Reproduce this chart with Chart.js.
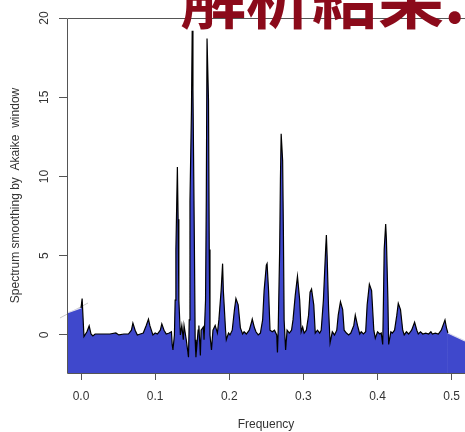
<!DOCTYPE html>
<html>
<head>
<meta charset="utf-8">
<script src="https://cdn.jsdelivr.net/npm/chart.js@4"></script>
<style>
  html, body { margin: 0; padding: 0; background: #fff; overflow: hidden; }
  #wrap { position: relative; width: 465px; height: 432px; overflow: hidden; }
  #title {
    position: absolute; left: 180px; top: -39px; white-space: nowrap;
    font-family: "Noto Sans CJK JP", sans-serif; font-weight: bold;
    font-size: 66px; line-height: 66px; color: #8b0a1a;
  }
</style>
</head>
<body>
<div id="wrap">
  <canvas id="specCanvas" width="465" height="432"></canvas>
  <div id="title">解析結果.</div>
</div>
<script>
// frequency / smoothed spectrum
const freq = [
  -0.019, 0.0, 0.0015, 0.004, 0.008, 0.011, 0.0135, 0.016, 0.019, 0.026, 0.039, 0.047, 0.051, 0.058,
  0.064, 0.068, 0.070, 0.073, 0.076, 0.080, 0.084, 0.088, 0.091, 0.093, 0.097, 0.100, 0.103, 0.107,
  0.109, 0.112, 0.115, 0.119, 0.122, 0.123, 0.124, 0.126, 0.127, 0.128, 0.130, 0.131, 0.132, 0.134,
  0.136, 0.138, 0.139, 0.142, 0.145, 0.146, 0.147, 0.149, 0.150, 0.151, 0.153, 0.154, 0.155, 0.158,
  0.159, 0.161, 0.162, 0.165, 0.166, 0.168, 0.169, 0.170, 0.172, 0.173, 0.174, 0.176, 0.178, 0.181,
  0.184, 0.186, 0.189, 0.191, 0.192, 0.195, 0.196, 0.199, 0.201, 0.204, 0.207, 0.209, 0.212, 0.215,
  0.218, 0.220, 0.223, 0.227, 0.230, 0.231, 0.234, 0.236, 0.239, 0.242, 0.245, 0.247, 0.250, 0.251,
  0.253, 0.255, 0.258, 0.261, 0.264, 0.265, 0.266, 0.268, 0.269, 0.270, 0.272, 0.273, 0.274, 0.276,
  0.278, 0.281, 0.284, 0.286, 0.289, 0.292, 0.295, 0.297, 0.299, 0.301, 0.304, 0.307, 0.309, 0.311,
  0.314, 0.316, 0.319, 0.322, 0.324, 0.327, 0.330, 0.331, 0.332, 0.334, 0.336, 0.339, 0.342, 0.345,
  0.347, 0.350, 0.353, 0.355, 0.358, 0.361, 0.364, 0.368, 0.370, 0.373, 0.376, 0.378, 0.381, 0.384,
  0.386, 0.389, 0.392, 0.395, 0.397, 0.400, 0.403, 0.405, 0.407, 0.408, 0.409, 0.411, 0.412, 0.414,
  0.415, 0.418, 0.420, 0.423, 0.426, 0.428, 0.431, 0.434, 0.436, 0.439, 0.442, 0.446, 0.450, 0.453,
  0.455, 0.458, 0.461, 0.465, 0.469, 0.472, 0.474, 0.478, 0.482, 0.486, 0.491, 0.493, 0.495, 0.518
]
const spectrum = [
  1.39, 1.70, 2.30, -0.10, 0.20, 0.57, 0.06, -0.06, 0.06, 0.06, 0.06, 0.13, 0.00, 0.06,
  0.06, 0.30, 0.75, 0.30, 0.00, 0.06, 0.12, 0.60, 1.00, 0.57, 0.00, 0.12, 0.06, 0.30,
  0.70, 0.30, 0.06, 0.12, 0.20, -0.60, -0.95, 0.00, 2.20, 5.40, 10.60, 7.30, 2.20, 0.00,
  0.60, -0.30, 0.60, -0.30, -1.40, 0.95, 8.50, 14.20, 19.20, 15.50, 5.40, -0.30, -1.40, 0.30,
  0.60, -1.30, 0.30, 0.50, -0.30, 2.20, 8.50, 18.70, 14.80, 5.40, 0.00, -0.95, 0.30, 0.60,
  0.12, 0.95, 2.80, 4.50, 2.80, 0.30, -0.30, 0.12, 0.00, 0.30, 1.60, 2.30, 1.90, 0.45,
  0.06, 0.20, 0.06, 0.30, 0.80, 1.00, 0.45, 0.20, 0.00, 0.12, 0.95, 2.80, 4.40, 4.50,
  2.80, 0.30, 0.20, 0.30, 0.00, -1.10, 0.30, 5.40, 9.80, 12.70, 11.00, 6.60, 0.95, -0.95,
  0.30, 0.12, 0.30, 0.95, 2.50, 3.70, 2.20, 0.20, 0.50, 0.12, 0.30, 1.25, 2.70, 2.90,
  1.90, 0.12, 0.30, 0.12, 0.30, 2.20, 5.40, 6.30, 5.00, 1.60, -0.50, 0.20, 0.00, 0.30,
  1.25, 2.10, 1.60, 0.30, 0.12, 0.00, 0.12, 0.60, 1.25, 0.60, 0.06, 0.20, 0.06, 0.20,
  1.90, 3.20, 2.80, 0.30, -0.20, 0.20, 0.06, 0.12, -0.60, 2.20, 5.40, 7.00, 6.00, 2.20,
  -0.60, 0.20, 0.12, 0.30, 1.25, 2.00, 1.60, 0.30, 0.00, 0.20, 0.06, 0.30, 0.80, 0.30,
  0.06, 0.20, 0.06, 0.12, 0.06, 0.20, 0.06, 0.12, 0.06, 0.30, 0.95, 0.45, 0.12, -0.38
]
// faint line sticking out at the low-frequency end
const edgeFreq = [-0.0284, 0.0095]
const edgeValue = [1.07, 2.02]

const xTicks = [0, 0.1, 0.2, 0.3, 0.4, 0.5]
const yTicks = [0, 5, 10, 15, 20]

const font = { family: 'Liberation Sans, Arial, sans-serif', size: 12 }
const axisGray = '#555'

// R style box plus vertical y tick labels
const boxPlugin = {
  id: 'box',
  afterDatasetsDraw(chart) {
    const { ctx, chartArea: a, scales } = chart
    ctx.save()
    ctx.strokeStyle = axisGray
    ctx.lineWidth = 1
    ctx.beginPath()
    ctx.moveTo(a.right + 5, a.top + 0.5)
    ctx.lineTo(a.left + 0.5, a.top + 0.5)
    ctx.lineTo(a.left + 0.5, a.bottom + 0.5)
    ctx.lineTo(a.right + 5, a.bottom + 0.5)
    ctx.stroke()
    ctx.fillStyle = '#333'
    ctx.font = '12px Liberation Sans, Arial, sans-serif'
    ctx.textAlign = 'center'
    ctx.textBaseline = 'middle'
    yTicks.forEach(v => {
      const y = scales.y.getPixelForValue(v)
      ctx.save()
      ctx.translate(45, y)
      ctx.rotate(-Math.PI / 2)
      ctx.fillText(String(v), 0, 0)
      ctx.restore()
    })
    ctx.restore()
  }
}

const ctx = document.getElementById('specCanvas')

new Chart(ctx, {
  type: 'line',
  data: {
    datasets: [{
      data: freq.map((f, i) => ({ x: f, y: spectrum[i] })),
      borderColor: '#000',
      borderWidth: 1.2,
      backgroundColor: 'rgb(63,72,204)',
      fill: 'start',
      pointRadius: 0,
      tension: 0,
      segment: {
        borderColor: c => (c.p0DataIndex === 0 || c.p1DataIndex === freq.length - 1) ? '#dcdcec' : '#000'
      }
    }, {
      data: edgeFreq.map((f, i) => ({ x: f, y: edgeValue[i] })),
      borderColor: '#c8c8c8',
      borderWidth: 1,
      pointRadius: 0,
      fill: false,
      clip: false
    }]
  },
  options: {
    responsive: false,
    animation: false,
    layout: { padding: { top: 18, left: 0, right: 0, bottom: 0 } },
    plugins: { legend: { display: false }, tooltip: { enabled: false } },
    scales: {
      x: {
        type: 'linear',
        min: -0.0189,
        max: 0.518,
        afterBuildTicks: s => { s.ticks = xTicks.map(v => ({ value: v })) },
        afterFit: s => { s.height = 59; s.paddingLeft = 0; s.paddingRight = 0 },
        grid: { drawOnChartArea: false, drawTicks: true, tickLength: 7, color: axisGray },
        border: { display: false },
        ticks: { font, color: '#333', padding: 9, maxRotation: 0, callback: v => v.toFixed(1) },
        title: { display: true, text: 'Frequency', font, color: '#333', padding: { top: 0, bottom: 0 } }
      },
      y: {
        min: -2.4,
        max: 20,
        afterBuildTicks: s => { s.ticks = yTicks.map(v => ({ value: v })) },
        afterFit: s => { s.width = 67; s.paddingTop = 0; s.paddingBottom = 0 },
        grid: { drawOnChartArea: false, drawTicks: true, tickLength: 8, color: axisGray },
        border: { display: false },
        ticks: { display: false },
        title: { display: true, text: 'Spectrum smoothing by  Akaike  window', font, color: '#333', padding: { top: 8, bottom: 0 } }
      }
    }
  },
  plugins: [boxPlugin]
})
</script>
</body>
</html>
